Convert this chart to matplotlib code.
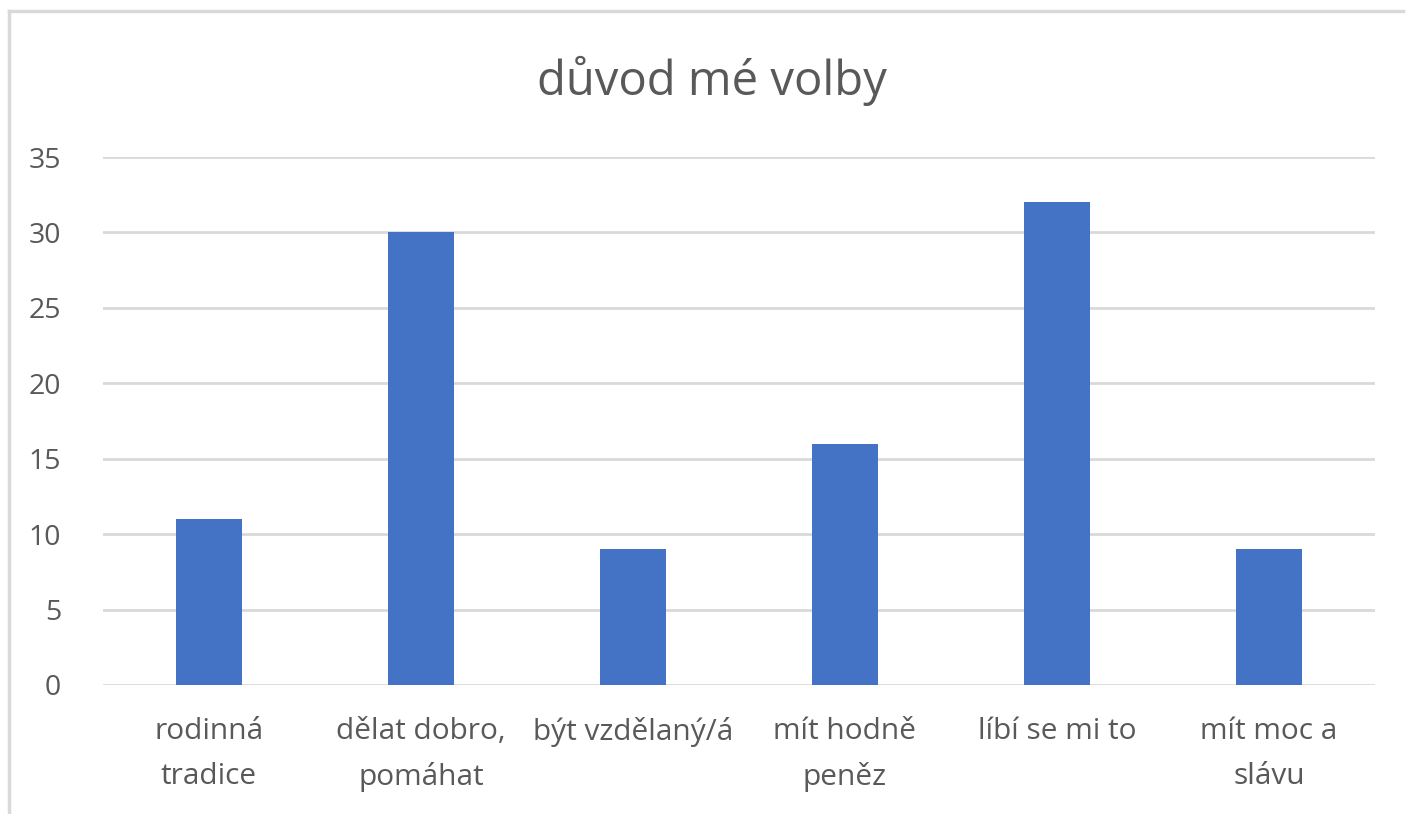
import matplotlib
matplotlib.use("Agg")
import matplotlib.pyplot as plt
from matplotlib.lines import Line2D

categories = ["rodinná\ntradice", "dělat dobro,\npomáhat", "být vzdělaný/á",
              "mít hodně\npeněz", "líbí se mi to", "mít moc a\nslávu"]
values = [11, 30, 9, 16, 32, 9]
yticks = [0, 5, 10, 15, 20, 25, 30, 35]

plt.rcParams['font.family'] = ['Open Sans', 'DejaVu Sans']
text_col = '#595959'
grid_col = '#D9D9D9'

fig = plt.figure(figsize=(14.1, 8.14), dpi=100)
ax = fig.add_axes([0.073, 0.1585, 0.9022, 0.6486])

x = range(len(categories))
ax.bar(x, values, width=0.31, color='#4472C4', zorder=3)

ax.set_xlim(-0.5, len(categories) - 0.5)
ax.set_ylim(0, 35)
ax.set_yticks(yticks)
ax.set_xticks(list(x))
ax.set_xticklabels(categories, linespacing=1.72)
ax.tick_params(axis='y', length=0, pad=30, labelsize=20.5, labelcolor=text_col)
ax.tick_params(axis='x', length=0, pad=23, labelsize=21.5, labelcolor=text_col)
ax.yaxis.grid(True, color=grid_col, linewidth=2, zorder=0)
for s in ax.spines.values():
    s.set_visible(False)

fig.text(0.505, 0.90, "důvod mé volby", ha='center', va='center',
         fontsize=34, color=text_col)

# outer chart border (only top and left visible in the crop)
fig.add_artist(Line2D([0.0064, 0.0064], [0.0, 0.986], transform=fig.transFigure,
                      color=grid_col, linewidth=2.5))
fig.add_artist(Line2D([0.0064, 0.995], [0.986, 0.986], transform=fig.transFigure,
                      color=grid_col, linewidth=2.5))

fig.savefig("out.png", dpi=100)
